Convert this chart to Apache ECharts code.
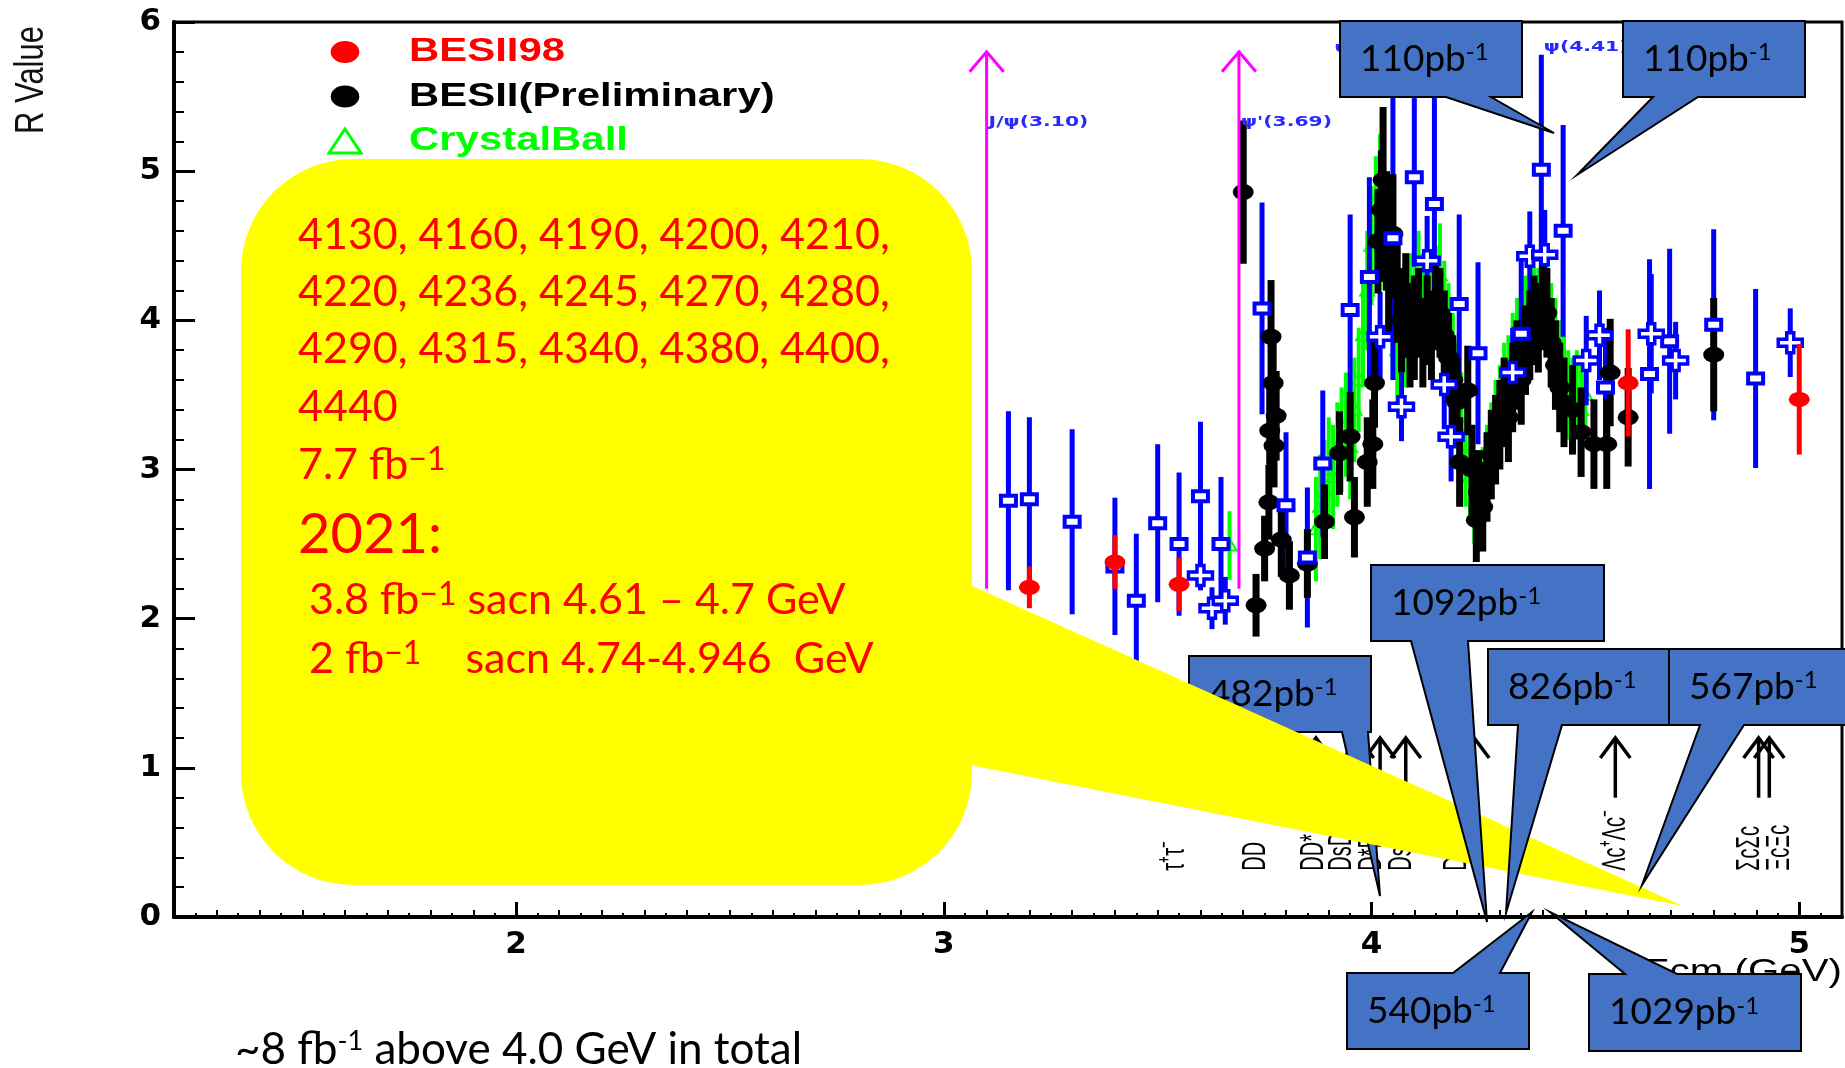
<!DOCTYPE html>
<html>
<head>
<meta charset="utf-8">
<script src="https://cdn.jsdelivr.net/npm/echarts@6/dist/echarts.min.js"></script>
<style>
  html, body { margin: 0; padding: 0; background: #fff; }
  #chart { width: 1845px; height: 1068px; }
</style>
</head>
<body>
<div id="chart"></div>
<script>
// ---- R measurements: [E_cm (GeV), R, error] ----
const besii98 = [
  [3.20, 2.21, 0.14], [3.40, 2.38, 0.18], [3.55, 2.23, 0.18], [4.60, 3.58, 0.36], [5.00, 3.47, 0.37]
];

const besiiPrelim = [
  [3.700, 4.86, 0.48], [3.730, 2.09, 0.21], [3.750, 2.47, 0.22], [3.760, 2.78, 0.25], [3.762, 3.26, 0.30],
  [3.765, 3.89, 0.38], [3.770, 3.58, 0.30], [3.772, 3.16, 0.28], [3.777, 3.36, 0.30], [3.789, 2.53, 0.25],
  [3.808, 2.29, 0.23], [3.850, 2.37, 0.23], [3.890, 2.65, 0.25], [3.925, 3.11, 0.28], [3.950, 3.22, 0.30],
  [3.960, 2.68, 0.27], [3.990, 3.05, 0.30], [4.003, 3.17, 0.30], [4.007, 3.58, 0.30], [4.015, 4.53, 0.35],
  [4.023, 4.74, 0.40], [4.027, 4.94, 0.49], [4.035, 4.60, 0.40], [4.040, 4.30, 0.40], [4.050, 4.58, 0.40],
  [4.060, 4.20, 0.35], [4.070, 4.00, 0.35], [4.080, 4.10, 0.35], [4.090, 3.90, 0.35], [4.100, 3.95, 0.35],
  [4.110, 4.05, 0.30], [4.120, 3.85, 0.30], [4.130, 4.00, 0.30], [4.140, 3.90, 0.30], [4.150, 4.10, 0.30],
  [4.160, 4.05, 0.30], [4.170, 3.90, 0.30], [4.180, 3.75, 0.30], [4.190, 3.60, 0.30], [4.200, 3.45, 0.30],
  [4.206, 3.05, 0.30], [4.225, 3.53, 0.30], [4.235, 3.00, 0.30], [4.245, 2.66, 0.28], [4.250, 2.85, 0.28],
  [4.260, 2.75, 0.30], [4.270, 2.95, 0.30], [4.280, 3.10, 0.30], [4.290, 3.20, 0.30], [4.300, 3.30, 0.30],
  [4.310, 3.45, 0.30], [4.320, 3.35, 0.30], [4.330, 3.55, 0.30], [4.340, 3.70, 0.30], [4.350, 3.60, 0.30],
  [4.360, 3.80, 0.30], [4.370, 3.90, 0.30], [4.380, 4.00, 0.30], [4.390, 3.95, 0.30], [4.400, 4.10, 0.30],
  [4.410, 4.05, 0.30], [4.420, 3.85, 0.30], [4.430, 3.70, 0.30], [4.440, 3.55, 0.30], [4.450, 3.45, 0.30],
  [4.470, 3.40, 0.30], [4.490, 3.25, 0.30], [4.520, 3.17, 0.30], [4.550, 3.17, 0.30], [4.558, 3.65, 0.36],
  [4.600, 3.35, 0.33], [4.800, 3.77, 0.38]
];

const crystalBall = [
  [3.668, 2.49, 0.23], [3.870, 2.60, 0.35], [3.880, 2.75, 0.35], [3.890, 2.85, 0.35], [3.900, 3.00, 0.35],
  [3.910, 2.95, 0.35], [3.920, 3.10, 0.35], [3.930, 3.20, 0.35], [3.940, 3.30, 0.35], [3.950, 3.15, 0.35],
  [3.960, 3.40, 0.35], [3.970, 3.60, 0.35], [3.980, 3.90, 0.35], [3.990, 4.20, 0.40], [4.000, 4.50, 0.40],
  [4.010, 4.70, 0.40], [4.020, 4.85, 0.40], [4.030, 4.60, 0.40], [4.040, 4.30, 0.40], [4.050, 4.00, 0.35],
  [4.060, 3.80, 0.35], [4.070, 3.70, 0.35], [4.080, 3.90, 0.35], [4.090, 4.10, 0.35], [4.100, 4.20, 0.35],
  [4.110, 4.25, 0.35], [4.120, 4.10, 0.35], [4.130, 4.20, 0.35], [4.140, 4.00, 0.35], [4.150, 4.15, 0.35],
  [4.160, 4.30, 0.35], [4.170, 4.05, 0.35], [4.180, 3.90, 0.35], [4.190, 3.70, 0.35], [4.200, 3.50, 0.35],
  [4.210, 3.30, 0.35], [4.220, 3.10, 0.35], [4.230, 2.95, 0.30], [4.240, 2.80, 0.30], [4.250, 2.75, 0.30],
  [4.260, 2.85, 0.30], [4.270, 3.00, 0.30], [4.280, 3.15, 0.30], [4.290, 3.30, 0.30], [4.300, 3.40, 0.30],
  [4.310, 3.55, 0.30], [4.320, 3.60, 0.30], [4.330, 3.75, 0.30], [4.340, 3.85, 0.30], [4.350, 3.95, 0.30],
  [4.360, 4.00, 0.30], [4.370, 4.10, 0.30], [4.380, 4.15, 0.30], [4.390, 4.05, 0.30], [4.400, 4.20, 0.30],
  [4.410, 4.10, 0.30], [4.420, 3.95, 0.30], [4.430, 3.85, 0.30], [4.440, 3.70, 0.30], [4.450, 3.60, 0.30],
  [4.460, 3.50, 0.30], [4.470, 3.45, 0.30], [4.480, 3.50, 0.30], [4.490, 3.40, 0.30], [4.500, 3.50, 0.30]
];

const olderSquares = [
  [3.151, 2.79, 0.60], [3.200, 2.80, 0.55], [3.300, 2.65, 0.62], [3.400, 2.35, 0.46], [3.450, 2.12, 0.45],
  [3.500, 2.64, 0.53], [3.550, 2.50, 0.48], [3.600, 2.82, 0.50], [3.648, 2.50, 0.45], [3.744, 4.08, 0.71],
  [3.800, 2.76, 0.49], [3.850, 2.41, 0.47], [3.886, 3.04, 0.49], [3.950, 4.07, 0.64], [3.995, 4.29, 0.67],
  [4.050, 4.55, 0.95], [4.100, 4.96, 0.60], [4.147, 4.78, 0.72], [4.205, 4.11, 0.60], [4.249, 3.78, 0.61],
  [4.350, 3.91, 0.50], [4.397, 5.01, 0.77], [4.448, 4.60, 0.71], [4.547, 3.55, 0.40], [4.650, 3.64, 0.77],
  [4.697, 3.86, 0.62], [4.800, 3.97, 0.64], [4.898, 3.61, 0.60]
];

const olderCrosses = [
  [3.600, 2.29, 0.10], [3.627, 2.07, 0.14], [3.658, 2.12, 0.16], [4.020, 3.89, 0.30], [4.070, 3.42, 0.23],
  [4.130, 4.40, 0.30], [4.170, 3.57, 0.30], [4.186, 3.22, 0.30], [4.330, 3.65, 0.30], [4.370, 4.43, 0.30],
  [4.405, 4.44, 0.30], [4.502, 3.73, 0.30], [4.533, 3.90, 0.30], [4.654, 3.91, 0.40], [4.711, 3.73, 0.26],
  [4.979, 3.85, 0.23]
];

// ---- resonances and open-flavour thresholds ----
const resonanceE = [3.10, 3.69];
const resonanceLabels = ['J/ψ(3.10)', "ψ'(3.69)", 'ψ(4.04)', 'ψ(4.41)'];
const resonanceLabelE = [3.10, 3.69, 3.909, 4.398];
const resonanceLabelR = [5.33, 5.33, 5.82, 5.83];

const thresholdE = [3.554, 3.73, 3.87, 3.97, 4.02, 4.08, 4.24, 4.57, 4.905, 4.93];
const channelLabels = ['τ⁺τ⁻', 'DD', 'DD*', 'DsDs', 'D*D*', 'DsDs*', 'Ds*Ds*', 'Λc⁺Λc⁻', 'ΣcΣc', 'ΞcΞc'];
const channelE = [3.54, 3.73, 3.865, 3.93, 4.00, 4.07, 4.20, 4.57, 4.885, 4.955];

// ---- axis ticks ----
const xMajorTicks = [2, 3, 4, 5];

// ---- luminosity annotations (pb^-1) ----
const lumiLabels = ['110', '110', '482', '1092', '826', '567', '540', '1029'];
const scanPoints = [4130, 4160, 4190, 4200, 4210, 4220, 4236, 4245, 4270, 4280,
                    4290, 4315, 4340, 4380, 4400, 4440];
const totalScanLumi = '7.7';

// ---------------------------------------------------------------
const ARIAL = '"Liberation Sans", Arial, sans-serif';
const CAL = 'Lato, "Open Sans", sans-serif';
const BLUE = '#0000ff', GREEN = '#00ff00', RED = '#ff0000', MAGENTA = '#ff00ff';

function ellipse(color, rx, ry) {
  return c => ({ type: 'circle', x: c[0], y: c[1], scaleX: rx / ry,
                 shape: { cx: 0, cy: 0, r: ry }, style: { fill: color } });
}
function openSquare(c) {
  return { type: 'rect', shape: { x: c[0] - 7.5, y: c[1] - 5, width: 15, height: 10 },
           style: { fill: '#fff', stroke: BLUE, lineWidth: 4 } };
}
function openCross(c) {
  const L = 12, V = 10, w = 3.5;
  const pts = [[-w,-V],[w,-V],[w,-w],[L,-w],[L,w],[w,w],[w,V],[-w,V],[-w,w],[-L,w],[-L,-w],[-w,-w]]
    .map(p => [c[0] + p[0], c[1] + p[1]]);
  return { type: 'polygon', shape: { points: pts }, style: { fill: '#fff', stroke: BLUE, lineWidth: 3.5 } };
}
function openTriangle(c) {
  return { type: 'polygon', shape: { points: [[c[0], c[1] - 7], [c[0] + 7, c[1] + 5], [c[0] - 7, c[1] + 5]] },
           style: { fill: 'none', stroke: GREEN, lineWidth: 2 } };
}

// error bar + marker renderer
function errorRender(color, barWidth, marker, withBar, withMarker) {
  return function (params, api) {
    const E = api.value(0), R = api.value(1), err = api.value(2);
    const c = api.coord([E, R]);
    const t = api.coord([E, R + err]);
    const b = api.coord([E, Math.max(0, R - err)]);
    const kids = [];
    if (withBar) kids.push({ type: 'line', shape: { x1: c[0], y1: t[1], x2: c[0], y2: b[1] },
                             style: { stroke: color, lineWidth: barWidth } });
    if (withMarker) kids.push(marker(c));
    return { type: 'group', children: kids };
  };
}

function errSeries(name, data, color, barWidth, marker, z, withBar = true, withMarker = true) {
  return { type: 'custom', name, data, z, silent: true, xAxisIndex: 0, yAxisIndex: 0,
           encode: { x: 0, y: 1 }, renderItem: errorRender(color, barWidth, marker, withBar, withMarker) };
}

// vertical arrow with an open V head
function arrow(x, yTip, yBase, color, width, hw, hh) {
  return { type: 'group', children: [
    { type: 'line', shape: { x1: x, y1: yTip, x2: x, y2: yBase }, style: { stroke: color, lineWidth: width } },
    { type: 'polyline', shape: { points: [[x - hw, yTip + hh], [x, yTip], [x + hw, yTip + hh]] },
      style: { stroke: color, lineWidth: width, fill: 'none' } }
  ]};
}

// callout box with a pointer on its bottom (or top) edge
function callout(x0, y0, x1, y1, b0, b1, tip, onTop, label, z) {
  const pts = onTop
    ? [[x0, y0], [b0, y0], tip, [b1, y0], [x1, y0], [x1, y1], [x0, y1]]
    : [[x0, y0], [x1, y0], [x1, y1], [b1, y1], tip, [b0, y1], [x0, y1]];
  return [
    { type: 'polygon', z, shape: { points: pts }, style: { fill: '#4472C4', stroke: '#000', lineWidth: 2 } },
    { type: 'text', z: z + 1, x: x0 + 20, y: (y0 + y1) / 2,
      style: { text: label + 'pb{sup|-1}', fontFamily: CAL, fontSize: 37, fill: '#000',
               align: 'left', verticalAlign: 'middle',
               rich: { sup: { fontFamily: CAL, fontSize: 24, fill: '#000', verticalAlign: 'top' } } } }
  ];
}

function yellowLine(text, x, y, size, supSize) {
  return { type: 'text', z: 72, x, y,
    style: { text, fontFamily: CAL, fontSize: size, fill: RED, align: 'left', verticalAlign: 'middle',
             rich: { sup: { fontFamily: CAL, fontSize: supSize || 32, fill: RED, verticalAlign: 'top' } } } };
}

// scan energy lines, five per row
const scanRows = [];
for (let i = 0; i < scanPoints.length; i += 5) {
  const row = scanPoints.slice(i, i + 5).join(', ');
  scanRows.push(i + 5 < scanPoints.length ? row + ',' : row);
}

const graphics = [];
// y axis title
graphics.push({ type: 'text', z: 60, x: 32, y: 80, rotation: Math.PI / 2, scaleY: 1.3,
  style: { text: 'R Value', fontFamily: ARIAL, fontSize: 31, fill: '#111', align: 'center', verticalAlign: 'middle' } });
// x axis title
graphics.push({ type: 'text', z: 60, x: 1842, y: 972, scaleX: 1.3,
  style: { text: 'Ecm (GeV)', fontFamily: ARIAL, fontSize: 31, fill: '#000', align: 'right', verticalAlign: 'middle' } });

// legend
graphics.push({ type: 'circle', z: 60, x: 345, y: 52, scaleX: 1.3, shape: { cx: 0, cy: 0, r: 11 }, style: { fill: RED } });
graphics.push({ type: 'circle', z: 60, x: 345, y: 96.5, scaleX: 1.3, shape: { cx: 0, cy: 0, r: 11 }, style: { fill: '#000' } });
graphics.push({ type: 'polygon', z: 60, shape: { points: [[345, 129], [361, 153], [329, 153]] },
  style: { fill: 'none', stroke: GREEN, lineWidth: 3 } });
[['BESII98', RED, 52], ['BESII(Preliminary)', '#000', 96.5], ['CrystalBall', GREEN, 141]].forEach(l => {
  graphics.push({ type: 'text', z: 60, x: 409, y: l[2], scaleX: 1.27,
    style: { text: l[0], fontFamily: ARIAL, fontWeight: 'bold', fontSize: 33, fill: l[1], align: 'left', verticalAlign: 'middle' } });
});

// 482 callout sits beneath the yellow note
graphics.push(...callout(1189, 656, 1371, 732, 1342, 1368, [1380, 896], false, lumiLabels[2], 64));

// yellow note
graphics.push({ type: 'rect', z: 70, shape: { x: 241, y: 159, width: 731, height: 726, r: 112 }, style: { fill: '#ffff00' } });
graphics.push({ type: 'polygon', z: 70, shape: { points: [[970, 585], [1683, 906], [970, 765]] }, style: { fill: '#ffff00' } });
const lineY = [235, 292, 349, 407];
scanRows.forEach((r, i) => graphics.push(yellowLine(r, 298, lineY[i], 43)));
graphics.push(yellowLine(totalScanLumi + ' fb{sup|−1}', 298, 465, 43));
graphics.push(yellowLine('2021:', 298, 535, 56));
graphics.push(yellowLine('3.8 fb{sup|−1} sacn 4.61 – 4.7 GeV', 309, 600, 43));
graphics.push(yellowLine('2 fb{sup|−1}    sacn 4.74-4.946  GeV', 309, 659, 43));

// remaining luminosity callouts
graphics.push(...callout(1340, 21, 1522, 97, 1446, 1491, [1554, 133], false, lumiLabels[0], 80));
graphics.push(...callout(1623, 21, 1805, 97, 1653, 1698, [1577, 175], false, lumiLabels[1], 80));
graphics.push(...callout(1371, 565, 1604, 641, 1411, 1468, [1487, 922], false, lumiLabels[3], 80));
graphics.push(...callout(1488, 649, 1669, 725, 1518, 1562, [1506, 913], false, lumiLabels[4], 80));
graphics.push(...callout(1669, 649, 1847, 725, 1700, 1744, [1642, 885], false, lumiLabels[5], 80));
graphics.push(...callout(1347, 973, 1529, 1049, 1453, 1500, [1532, 912], true, lumiLabels[6], 80));
graphics.push(...callout(1589, 974, 1801, 1051, 1625, 1677, [1550, 912], true, lumiLabels[7], 80));

// total luminosity note
graphics.push({ type: 'text', z: 60, x: 235, y: 1050,
  style: { text: '~8 fb{sup|-1} above 4.0 GeV in total', fontFamily: CAL, fontSize: 44, fill: '#000',
           align: 'left', verticalAlign: 'middle',
           rich: { sup: { fontFamily: CAL, fontSize: 27, fill: '#000', verticalAlign: 'top' } } } });

const option = {
  animation: false,
  backgroundColor: '#fff',
  grid: { left: 174, right: 3, top: 22, bottom: 151, show: true, borderColor: '#000', borderWidth: 3 },
  xAxis: [
    { type: 'value', min: 1.2, max: 5.1, position: 'bottom',
      axisLine: { show: true, lineStyle: { color: '#000', width: 4 } },
      axisTick: { show: true, inside: true, length: 15, lineStyle: { color: '#000', width: 3 }, customValues: xMajorTicks },
      axisLabel: { customValues: xMajorTicks, fontFamily: '"DejaVu Sans"', fontWeight: 'bold', fontSize: 31, color: '#000', margin: 12 },
      splitLine: { show: false } },
    { type: 'value', min: 1.2, max: 5.1, interval: 0.1, position: 'bottom',
      axisLine: { show: false },
      axisTick: { show: true, inside: true, length: 7, lineStyle: { color: '#000', width: 2 } },
      minorTick: { show: true, splitNumber: 2, length: 4, lineStyle: { color: '#000', width: 2 } },
      axisLabel: { show: false }, splitLine: { show: false } }
  ],
  yAxis: {
    type: 'value', min: 0, max: 6, interval: 1,
    axisLine: { show: true, lineStyle: { color: '#000', width: 4 } },
    axisTick: { show: true, inside: true, length: 21, lineStyle: { color: '#000', width: 3 } },
    minorTick: { show: true, splitNumber: 5, length: 10, lineStyle: { color: '#000', width: 2 } },
    axisLabel: { fontFamily: '"DejaVu Sans"', fontWeight: 'bold', fontSize: 31, color: '#000', margin: 13 },
    splitLine: { show: false }
  },
  series: [
    errSeries('CrystalBall', crystalBall, GREEN, 4, openTriangle, 2),
    errSeries('older squares (bars)', olderSquares, BLUE, 5, openSquare, 3, true, false),
    errSeries('older crosses (bars)', olderCrosses, BLUE, 5, openCross, 3, true, false),
    errSeries('BESII(Preliminary)', besiiPrelim, '#000', 7, ellipse('#000', 10.5, 8), 4),
    errSeries('older squares', olderSquares, BLUE, 5, openSquare, 5, false, true),
    errSeries('older crosses', olderCrosses, BLUE, 5, openCross, 5, false, true),
    errSeries('BESII98', besii98, RED, 5, ellipse(RED, 10.5, 7.5), 6),
    { // narrow resonances
      type: 'custom', name: 'resonances', silent: true, z: 7,
      data: resonanceE.map(e => [e]), encode: { x: 0 },
      renderItem: (params, api) => {
        const top = api.coord([api.value(0), 5.8]);
        const bot = api.coord([api.value(0), 2.2]);
        return arrow(top[0], top[1], bot[1], MAGENTA, 3, 17, 20);
      }
    },
    { // resonance names
      type: 'custom', name: 'resonance names', silent: true, z: 7,
      data: resonanceLabelE.map((e, i) => [e, resonanceLabelR[i]]), encode: { x: 0, y: 1 },
      renderItem: (params, api) => {
        const c = api.coord([api.value(0), api.value(1)]);
        return { type: 'text', x: c[0] + 2, y: c[1], scaleX: 1.45,
          style: { text: resonanceLabels[params.dataIndex], fontFamily: '"DejaVu Sans"', fontWeight: 'bold',
                   fontSize: 14, fill: '#2828ff', align: 'left', verticalAlign: 'middle' } };
      }
    },
    { // production thresholds
      type: 'custom', name: 'thresholds', silent: true, z: 7,
      data: thresholdE.map(e => [e]), encode: { x: 0 },
      renderItem: (params, api) => {
        const tip = api.coord([api.value(0), 1.2]);
        const base = api.coord([api.value(0), 0.8]);
        return arrow(tip[0], tip[1], base[1], '#000', 3.5, 15, 20);
      }
    },
    { // channel names
      type: 'custom', name: 'channels', silent: true, z: 7,
      data: channelE.map(e => [e, 0.31]), encode: { x: 0, y: 1 },
      renderItem: (params, api) => {
        const c = api.coord([api.value(0), api.value(1)]);
        return { type: 'text', x: c[0], y: c[1], rotation: Math.PI / 2, scaleY: 1.7,
          style: { text: channelLabels[params.dataIndex], fontFamily: ARIAL, fontSize: 20, fill: '#000',
                   align: 'left', verticalAlign: 'middle' } };
      }
    }
  ],
  graphic: { elements: graphics }
};

const chart = echarts.init(document.getElementById('chart'), null, { renderer: 'canvas' });
chart.setOption(option);
</script>
</body>
</html>
